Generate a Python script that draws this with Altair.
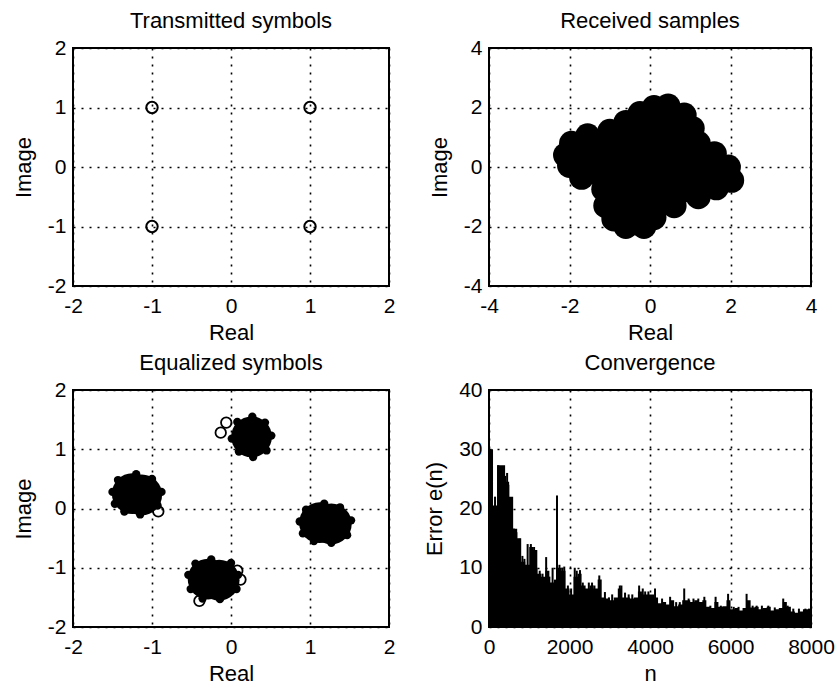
import altair as alt
import pandas as pd

FONT = "Liberation Sans"

# ---------------- data ----------------
# Panel 1: transmitted QPSK symbols
tx_real = [-1, 1, -1, 1]
tx_imag = [1, 1, -1, -1]

# Panel 2: received samples - centres of the outer lobes of the dense cloud (clockwise)
rx_real = [0.1, 0.45, 0.85, 1.05, 1.2, 1.6, 1.95, 2.03, 1.65, 1.2, 0.6, 0.1, -0.15,
           -0.6, -0.9, -1.1, -1.15, -1.7, -2.0, -2.1, -1.95, -1.55, -1.0, -0.6, -0.25]
rx_imag = [2.0, 2.05, 1.75, 1.3, 0.8, 0.45, 0.0, -0.45, -0.7, -1.0, -1.3, -1.7, -2.0,
           -2.0, -1.75, -1.3, -0.75, -0.35, 0.05, 0.4, 0.8, 1.05, 1.2, 1.5, 1.8]

# Panel 3: equalized symbols - dense cores, cluster edges, isolated outliers
eq_core_real = [0.26, -1.25, -1.13, 1.12, 1.27, -0.29, -0.15]
eq_core_imag = [1.21, 0.25, 0.23, -0.24, -0.26, -1.19, -1.21]
eq_edge_real = [0.51, 0.43, 0.27, 0.08, 0.01, 0.10, 0.28, 0.45,
                -1.50, -1.43, -1.20, -1.00, -0.88, -0.93, -1.15, -1.35, -1.47,
                0.87, 0.95, 1.18, 1.38, 1.52, 1.47, 1.27, 1.05, 0.91,
                -0.54, -0.45, -0.25, 0.00, 0.09, 0.07, -0.14, -0.36, -0.51]
eq_edge_imag = [1.23, 1.45, 1.55, 1.46, 1.18, 0.96, 0.87, 0.98,
                0.28, 0.48, 0.58, 0.50, 0.28, 0.05, -0.10, -0.05, 0.08,
                -0.22, -0.02, 0.08, 0.02, -0.20, -0.45, -0.58, -0.55, -0.42,
                -1.12, -0.93, -0.86, -0.92, -1.12, -1.36, -1.53, -1.52, -1.36]
eq_out_real = [-0.06, -0.13, -0.92, -0.40, 0.08, 0.12]
eq_out_imag = [1.45, 1.28, -0.05, -1.56, -1.05, -1.20]

# Panel 4: convergence - dense error level every 100 samples, plus spikes
conv_n = list(range(0, 8100, 100))
conv_err = [30, 20.5, 27.3, 27.3, 24.5, 22, 16.6, 15, 11, 10.5,
            13.5, 13, 9, 8.5, 9.5, 7.5, 7.5, 10, 9.5, 6.5,
            5.5, 8.5, 9, 7, 6.5, 7, 6.5, 8, 5, 4.8,
            4.5, 5, 6.5, 5, 5, 4.8, 5, 6, 5.5, 5.5,
            5.5, 5, 4, 4.2, 3.8, 4.5, 3.5, 3.8, 4.5, 4.5,
            4.2, 4.5, 4.2, 4.5, 3.4, 3.2, 4.2, 3.4, 3.5, 4.5,
            3.0, 3.2, 2.8, 3.2, 4.5, 3.3, 3.4, 3.0, 3.2, 3.4,
            2.8, 3.0, 3.2, 4.2, 3.4, 2.6, 2.4, 2.6, 3.0, 3.0, 3.0]
spike_n = [20, 60, 150, 230, 260, 300, 350, 400, 450, 480, 560, 620, 680, 760, 830,
           880, 960, 1040, 1120, 1180, 1260, 1330, 1420, 1500, 1580, 1640, 1690, 1750,
           1820, 1870, 1960, 2040, 2130, 2180, 2260, 2330, 2480, 2560, 2620, 2740, 2880,
           2980, 3060, 3250, 3290, 3380, 3470, 3560, 3730, 3820, 3880, 3960, 4125, 4300,
           4500, 4650, 4740, 4850, 4960, 5080, 5200, 5350, 5500, 5630, 5760, 5940, 6080,
           6200, 6400, 6550, 6650, 6780, 6940, 7100, 7310, 7420, 7560, 7700, 7860, 7950]
spike_err = [30, 28, 22, 27.3, 26.5, 27, 26, 25.5, 26, 24, 20, 16.6, 16, 14.9, 12,
             11.5, 14, 14, 13.5, 10, 9.5, 9, 11.8, 8.5, 10, 8, 22.2, 10.5,
             10, 10.2, 7, 6.5, 10, 9.5, 9.6, 7.5, 7.5, 7.5, 7, 8.7, 5.9,
             5, 5.5, 7.0, 7, 5.8, 5.5, 5.5, 7, 6.5, 6, 6, 6.5, 4.8,
             5.1, 4.2, 4.2, 6.5, 4.8, 4.8, 4.8, 5.1, 3.6, 5.1, 3.6, 5.6, 3.4,
             3.4, 5.6, 3.6, 3.6, 3.6, 3.6, 3.3, 4.8, 3.6, 3.1, 3.1, 3.1, 3.1]

# ---------------- helpers ----------------
def ax(values, title, orient):
    common = dict(values=values, title=title, grid=True, gridDash=[2, 6], gridColor="black",
                  gridWidth=1.6, gridOpacity=1, domain=False, ticks=False,
                  labelFont=FONT, labelFontSize=21, labelColor="black",
                  titleFont=FONT, titleFontSize=22, titleFontWeight="normal",
                  titleColor="black", labelExpr="'' + datum.value",
                  labelFlush=False, labelOverlap=False)
    if orient == "x":
        common.update(labelPadding=9, titlePadding=6)
    else:
        common.update(labelPadding=7, titlePadding=12)
    return alt.Axis(**common)


def enc(dom_x, tx, dom_y, ty, xt, yt):
    return dict(
        x=alt.X("x:Q", scale=alt.Scale(domain=dom_x, nice=False, zero=False), axis=ax(tx, xt, "x")),
        y=alt.Y("y:Q", scale=alt.Scale(domain=dom_y, nice=False, zero=False), axis=ax(ty, yt, "y")),
    )


def title(t):
    return alt.TitleParams(t, font=FONT, fontSize=22, fontWeight="normal", color="black", offset=4)


W1, W2, H1, H2 = 316, 322, 238, 237

# Panel 1
d1 = pd.DataFrame({"x": tx_real, "y": tx_imag})
p1 = alt.Chart(d1).mark_point(shape="circle", filled=False, size=130, strokeWidth=2,
                              color="black", opacity=1).encode(
    **enc([-2, 2], [-2, -1, 0, 1, 2], [-2, 2], [-2, -1, 0, 1, 2], "Real", "Image")
).properties(width=W1, height=H1, title=title("Transmitted symbols"))

# Panel 2
d2 = pd.DataFrame({"x": rx_real, "y": rx_imag, "i": list(range(len(rx_real)))})
d2c = pd.concat([d2, d2.iloc[[0]].assign(i=len(rx_real))])
e2 = enc([-4, 4], [-4, -2, 0, 2, 4], [-4, 4], [-4, -2, 0, 2, 4], "Real", "Image")
p2_poly = alt.Chart(d2c).mark_line(color="black", fill="black", strokeWidth=2).encode(
    order="i:Q", **e2)
p2_pts = alt.Chart(d2).mark_point(shape="circle", filled=True, size=620, color="black",
                                  opacity=1).encode(**e2)
p2 = alt.layer(p2_poly, p2_pts).properties(width=W2, height=H1, title=title("Received samples"))

# Panel 3
e3 = enc([-2, 2], [-2, -1, 0, 1, 2], [-2, 2], [-2, -1, 0, 1, 2], "Real", "Image")
p3_core = alt.Chart(pd.DataFrame({"x": eq_core_real, "y": eq_core_imag})).mark_point(
    shape="circle", filled=True, size=1660, color="black", opacity=1).encode(**e3)
p3_edge = alt.Chart(pd.DataFrame({"x": eq_edge_real, "y": eq_edge_imag})).mark_point(
    shape="circle", filled=True, size=70, color="black", opacity=1).encode(**e3)
p3_out = alt.Chart(pd.DataFrame({"x": eq_out_real, "y": eq_out_imag})).mark_point(
    shape="circle", filled=False, size=110, strokeWidth=1.8, color="black", opacity=1).encode(**e3)
p3 = alt.layer(p3_core, p3_edge, p3_out).properties(width=W1, height=H2,
                                                    title=title("Equalized symbols"))

# Panel 4
e4 = enc([0, 8000], [0, 2000, 4000, 6000, 8000], [0, 40], [0, 10, 20, 30, 40], "n", "Error e(n)")
p4_area = alt.Chart(pd.DataFrame({"x": conv_n, "y": conv_err})).mark_area(
    interpolate="step-after", color="black", opacity=1).encode(**e4)
p4_spk = alt.Chart(pd.DataFrame({"x": spike_n, "y": spike_err})).mark_rule(
    color="black", strokeWidth=2).encode(y2=alt.datum(0), **e4)
p4 = alt.layer(p4_area, p4_spk).properties(width=W2, height=H2, title=title("Convergence"))

chart = alt.concat(p1, p2, p3, p4, columns=2, spacing={"row": 7, "column": 26}).properties(
    padding={"left": 11, "top": 9, "right": 0, "bottom": 0}, background="white"
).configure_view(stroke="black", strokeWidth=2)

chart.save("out.html", embed_options={"renderer": "svg", "actions": False})
